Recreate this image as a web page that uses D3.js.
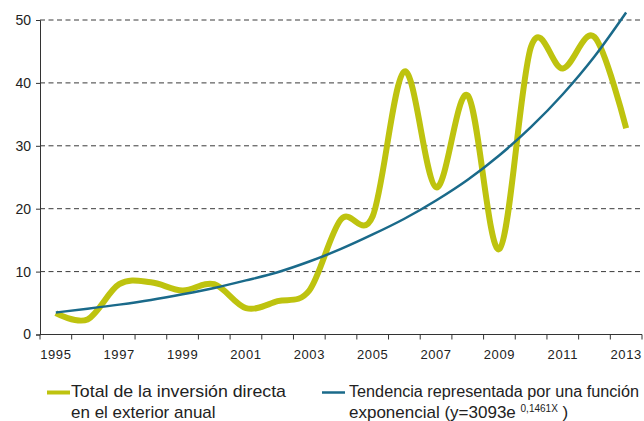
<!DOCTYPE html>
<html>
<head>
<meta charset="utf-8">
<script src="https://cdn.jsdelivr.net/npm/d3@7"></script>
<style>
  body { margin: 0; background: #fff; }
  svg { display: block; font-family: "Liberation Sans", Arial, sans-serif; }
</style>
</head>
<body>
<div id="chart"></div>
<script>
// categories (years)
var years = ["1995","1996","1997","1998","1999","2000","2001","2002","2003","2004",
             "2005","2006","2007","2008","2009","2010","2011","2012","2013"];

// total outward direct investment per year
var inversion = [3.4, 2.4, 8.0, 8.3, 7.0, 8.0, 4.2, 5.3, 7.0, 18.3,
                 18.8, 41.8, 23.4, 38.0, 13.6, 45.8, 42.3, 47.3, 32.8];

// exponential trend line
var tendencia = [3.5, 4.1, 4.75, 5.5, 6.4, 7.4, 8.6, 9.9, 11.6, 13.6,
                 15.9, 18.4, 21.3, 24.6, 28.5, 33.0, 38.2, 44.2, 51.2];

var yTicks = [0, 10, 20, 30, 40, 50];
var xLabels = ["1995","1997","1999","2001","2003","2005","2007","2009","2011","2013"];

var width = 644, height = 421;
var margin = {top: 20, right: 2, bottom: 86.5, left: 40};

var svg = d3.select("#chart").append("svg")
    .attr("width", width)
    .attr("height", height);

var x = d3.scaleBand()
    .domain(years)
    .range([margin.left, width - margin.right])
    .paddingInner(0).paddingOuter(0);

var y = d3.scaleLinear()
    .domain([0, 50])
    .range([height - margin.bottom, margin.top]);

//dashed grid lines
svg.append("g")
    .selectAll("line")
    .data(yTicks.filter(d => d > 0))
    .enter().append("line")
    .attr("x1", margin.left)
    .attr("x2", width - margin.right)
    .attr("y1", d => y(d))
    .attr("y2", d => y(d))
    .attr("stroke", "#3a3a3a")
    .attr("stroke-width", 1)
    .attr("stroke-dasharray", "5,3.5");

//y axis
var yAxis = svg.append("g")
    .attr("transform", "translate(" + margin.left + ",0)")
    .call(d3.axisLeft(y).tickValues(yTicks).tickSize(4).tickPadding(5));
yAxis.select(".domain").attr("stroke", "#333");
yAxis.selectAll(".tick line").attr("stroke", "#333");
yAxis.selectAll("text")
    .attr("fill", "#222")
    .style("font-size", "14px")
    .style("font-family", "Liberation Sans, Arial, sans-serif");

//x axis: ticks on band boundaries, labels on odd years
var xg = svg.append("g")
    .attr("transform", "translate(0," + y(0) + ")");
xg.append("line")
    .attr("x1", margin.left).attr("x2", width - margin.right)
    .attr("stroke", "#333");
xg.selectAll(".bt")
    .data(years.concat(["end"]))
    .enter().append("line")
    .attr("class", "bt")
    .attr("x1", d => d == "end" ? x.range()[1] : x(d))
    .attr("x2", d => d == "end" ? x.range()[1] : x(d))
    .attr("y1", 0).attr("y2", 5)
    .attr("stroke", "#333");
xg.selectAll(".lbl")
    .data(xLabels)
    .enter().append("text")
    .attr("class", "lbl")
    .attr("x", d => x(d) + x.bandwidth() / 2)
    .attr("y", 24)
    .attr("text-anchor", "middle")
    .attr("fill", "#222")
    .style("font-size", "13px")
    .style("letter-spacing", "0.6px")
    .text(d => d);

var cx = (d, i) => x(years[i]) + x.bandwidth() / 2;

//investment line (smoothed)
svg.append("path")
    .datum(inversion)
    .attr("fill", "none")
    .attr("stroke", "#bec30f")
    .attr("stroke-width", 6)
    .attr("stroke-linejoin", "round")
    .attr("d", d3.line().x(cx).y(d => y(d)).curve(d3.curveCardinal.tension(0)));

//trend line
svg.append("path")
    .datum(tendencia)
    .attr("fill", "none")
    .attr("stroke", "#1a6a8a")
    .attr("stroke-width", 2.5)
    .attr("d", d3.line().x(cx).y(d => y(d)).curve(d3.curveMonotoneX));

//legend
var lg = svg.append("g").style("font-size", "17px").attr("fill", "#222");

lg.append("line")
    .attr("x1", 47).attr("x2", 70).attr("y1", 392.5).attr("y2", 392.5)
    .attr("stroke", "#bec30f").attr("stroke-width", 4);
lg.append("text").attr("x", 71).attr("y", 397)
    .attr("textLength", 215).attr("lengthAdjust", "spacingAndGlyphs")
    .text("Total de la inversión directa");
lg.append("text").attr("x", 71).attr("y", 418).text("en el exterior anual");

lg.append("line")
    .attr("x1", 322).attr("x2", 345).attr("y1", 392.5).attr("y2", 392.5)
    .attr("stroke", "#1a6a8a").attr("stroke-width", 2.5);
lg.append("text").attr("x", 349).attr("y", 397)
    .style("font-size", "16px")
    .attr("textLength", 290).attr("lengthAdjust", "spacingAndGlyphs")
    .text("Tendencia representada por una función");
var t2 = lg.append("text").attr("x", 349).attr("y", 418);
t2.append("tspan").text("exponencial (y=3093e ");
t2.append("tspan").attr("dy", -6).style("font-size", "10px").text("0,1461X");
t2.append("tspan").attr("dy", 6).text(" )");
</script>
</body>
</html>
